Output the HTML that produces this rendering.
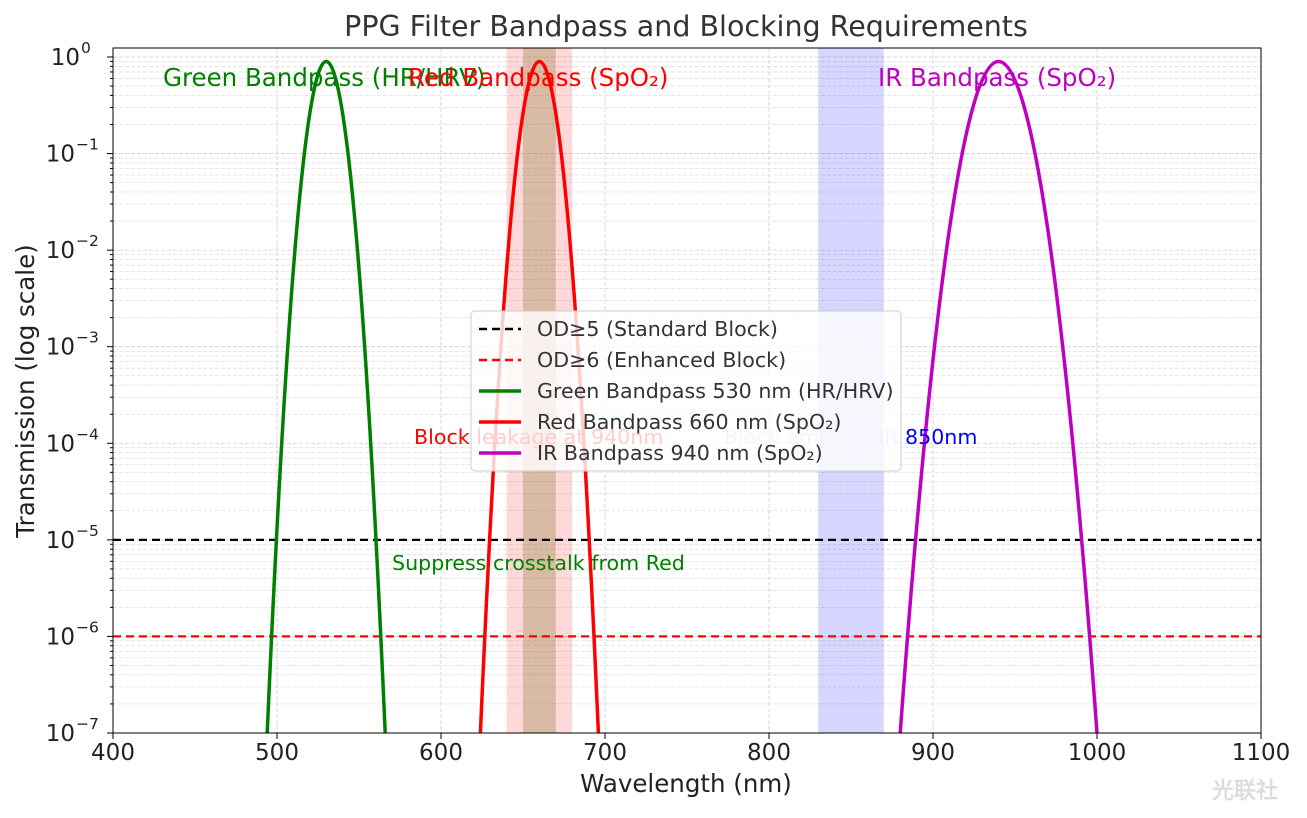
<!DOCTYPE html>
<html><head><meta charset="utf-8"><style>
body{margin:0;background:#fff}
svg text{font-family:"DejaVu Sans","Liberation Sans",sans-serif}
</style></head><body>
<svg width="1307" height="813" xmlns="http://www.w3.org/2000/svg">
<defs><clipPath id="c"><rect x="113" y="48" width="1148" height="685"/></clipPath></defs>
<rect width="1307" height="813" fill="#fff"/>
<g id="grid" stroke="#cfcfcf" stroke-width="0.8" stroke-dasharray="4,2"></g>
<g clip-path="url(#c)">
<rect x="506.6" y="48" width="65.6" height="685" fill="#ff0000" fill-opacity="0.15"/>
<rect x="523" y="48" width="32.8" height="685" fill="#8b7d3a" fill-opacity="0.33"/>
<rect x="818.2" y="48" width="65.6" height="685" fill="#0000ff" fill-opacity="0.16"/>
<line x1="113" x2="1261" y1="539.9" y2="539.9" stroke="#000" stroke-width="2.2" stroke-dasharray="8,5"/>
<line x1="113" x2="1261" y1="636.4" y2="636.4" stroke="#f00" stroke-width="2.2" stroke-dasharray="8,5"/>
<path d="M267.2,733 Q326.2,-610 385.2,733" fill="none" stroke="#008000" stroke-width="3.5"/>
<path d="M480.4,733 Q539.4,-610 598.4,733" fill="none" stroke="#f00" stroke-width="3.5"/>
<path d="M900.2,733 Q998.6,-610 1097,733" fill="none" stroke="#bf00bf" stroke-width="3.5"/>
</g>
<rect x="113" y="48" width="1148" height="685" fill="none" stroke="#000" stroke-width="1"/>
<g id="ticks" font-size="23" fill="#222"></g>
<text x="686" y="36" font-size="28.5" text-anchor="middle" fill="#333">PPG Filter Bandpass and Blocking Requirements</text>
<text x="686" y="792" font-size="24.5" text-anchor="middle" fill="#222">Wavelength (nm)</text>
<text transform="translate(34,391) rotate(-90)" font-size="24.5" text-anchor="middle" fill="#222">Transmission (log scale)</text>
<text x="163" y="86" font-size="24.5" fill="#008000">Green Bandpass (HR/HRV)</text>
<text x="408" y="86" font-size="24.5" fill="#f00">Red Bandpass (SpO₂)</text>
<text x="878" y="86" font-size="24.5" fill="#bf00bf">IR Bandpass (SpO₂)</text>
<text x="414" y="444" font-size="20.6" fill="#f00">Block leakage at 940nm</text>
<text x="724" y="444" font-size="20.6" fill="#c8c8ff">Block ambient IR <tspan fill="#0000ff">850nm</tspan></text>
<text x="392" y="570" font-size="20.6" fill="#008000">Suppress crosstalk from Red</text>
<rect x="471" y="311" width="430" height="160" rx="4" fill="#fff" fill-opacity="0.8" stroke="#ccc"/>
<g font-size="20.6" fill="#333">
<line x1="479" x2="521" y1="329" y2="329" stroke="#000" stroke-width="2.5" stroke-dasharray="8,5"/><text x="537" y="336">OD≥5 (Standard Block)</text>
<line x1="479" x2="521" y1="360" y2="360" stroke="#f00" stroke-width="2.5" stroke-dasharray="8,5"/><text x="537" y="367">OD≥6 (Enhanced Block)</text>
<line x1="479" x2="521" y1="391" y2="391" stroke="#008000" stroke-width="3.5"/><text x="537" y="398">Green Bandpass 530 nm (HR/HRV)</text>
<line x1="479" x2="521" y1="422" y2="422" stroke="#f00" stroke-width="3.5"/><text x="537" y="429">Red Bandpass 660 nm (SpO₂)</text>
<line x1="479" x2="521" y1="453" y2="453" stroke="#bf00bf" stroke-width="3.5"/><text x="537" y="460">IR Bandpass 940 nm (SpO₂)</text>
</g>
<text x="1212" y="798" font-size="22" font-weight="bold" fill="#ddd">光联社</text>
<script>
var ns="http://www.w3.org/2000/svg",g=document.getElementById('grid'),t=document.getElementById('ticks');
function el(p,n,a,txt){var e=document.createElementNS(ns,n);for(var k in a)e.setAttribute(k,a[k]);if(txt!=null)e.textContent=txt;p.appendChild(e);return e;}
for(var i=0;i<=7;i++){var x=113+164*i;el(g,'line',{x1:x,x2:x,y1:48,y2:733});
el(t,'line',{x1:x,x2:x,y1:733,y2:739,stroke:'#000'});el(t,'text',{x:x,y:760,'text-anchor':'middle'},400+100*i);}
var d=96.57;
for(var k=0;k<=7;k++){var y=57+k*d;el(g,'line',{x1:113,x2:1261,y1:y,y2:y});
el(t,'line',{x1:107,x2:113,y1:y,y2:y,stroke:'#000'});
el(t,'text',{x:k?75:80,y:y+8,'text-anchor':'end'},'10');
el(t,'text',{x:k?76:81,y:y-4,'font-size':'15.5'},k?'−'+k:'0');
if(k<7)for(var m=2;m<=9;m++){var yy=57+(k+1)*d-Math.log10(m)*d;el(g,'line',{x1:113,x2:1261,y1:yy,y2:yy,'stroke-width':0.5});el(t,'line',{x1:110,x2:113,y1:yy,y2:yy,stroke:'#000'});}}
for(var m=2;m<=9;m++){var yy=57-Math.log10(m)*d;if(yy>=48){el(g,'line',{x1:113,x2:1261,y1:yy,y2:yy,'stroke-width':0.5});}}
</script>
</svg>
</body></html>
